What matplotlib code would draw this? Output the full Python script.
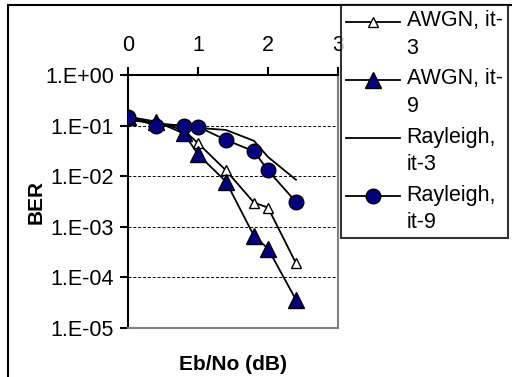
import numpy as np
import matplotlib
matplotlib.use("Agg")
import matplotlib.pyplot as plt
from matplotlib.ticker import FixedLocator, FuncFormatter, NullLocator
from matplotlib.lines import Line2D

plt.rcParams['font.family'] = ['Liberation Sans', 'DejaVu Sans']

# data
ebno = [0, 0.4, 0.8, 1.0, 1.4, 1.8, 2.0, 2.4]
awgn_it3 = [0.13, 0.12, 0.08, 0.045, 0.013, 0.003, 0.0024, 0.00019]
awgn_it9 = [0.15, 0.12, 0.07, 0.027, 0.0078, 0.00066, 0.00037, 0.000036]
rayl_it3 = [0.13, 0.11, 0.10, 0.09, 0.082, 0.05, 0.024, 0.0085]
rayl_it9 = [0.15, 0.10, 0.10, 0.095, 0.052, 0.031, 0.013, 0.0031]
labels = ["AWGN, it-\n3", "AWGN, it-\n9", "Rayleigh,\nit-3", "Rayleigh,\nit-9"]
xticks = [0, 1, 2, 3]
yticks = [1, 1e-1, 1e-2, 1e-3, 1e-4, 1e-5]

fig = plt.figure(figsize=(5.12, 3.77), dpi=100)
ax = fig.add_axes([128/512, 1-328/377, 210/512, 253/377])

navy = '#000080'
ax.plot(ebno, awgn_it3, '-^', color='black', lw=1.3, ms=7,
        mfc='white', mec='black', mew=1.0, label=labels[0], zorder=3)
ax.plot(ebno, awgn_it9, '-^', color='black', lw=1.3, ms=11,
        mfc=navy, mec='black', mew=1.0, label=labels[1], zorder=3)
ax.plot(ebno, rayl_it3, '-', color='black', lw=1.3, label=labels[2], zorder=3)
ax.plot(ebno, rayl_it9, '-o', color='black', lw=1.3, ms=10.5,
        mfc=navy, mec='black', mew=1.0, label=labels[3], zorder=3)

ax.set_yscale('log')
ax.set_xlim(0, 3)
ax.set_ylim(1e-5, 1)
ax.xaxis.tick_top()
ax.xaxis.set_major_locator(FixedLocator(xticks))
ax.xaxis.set_major_formatter(FuncFormatter(lambda v, p: f"{int(v)}"))
ax.yaxis.set_major_locator(FixedLocator(yticks))
ax.yaxis.set_minor_locator(NullLocator())
ax.yaxis.set_major_formatter(
    FuncFormatter(lambda v, p: f"1.E{int(round(np.log10(v))):+03d}"))
ax.tick_params(axis='both', direction='out', length=6, width=1.5,
               labelsize=15.5, colors='black', pad=4)
ax.tick_params(axis='x', pad=8)

# dashed gridlines at the inner decades
for yv in yticks[1:-1]:
    ax.axhline(yv, color='black', lw=0.7, ls=(0, (3, 2)), zorder=1)

for side in ['top', 'left']:
    ax.spines[side].set_color('black')
    ax.spines[side].set_linewidth(1.5)
for side in ['bottom', 'right']:
    ax.spines[side].set_color('#808080')
    ax.spines[side].set_linewidth(1.5)

ax.set_ylabel("BER", fontsize=15, fontweight='bold')
ax.yaxis.set_label_coords((46-128)/210, 0.5)
ax.set_xlabel("Eb/No (dB)", fontsize=15, fontweight='bold')
ax.xaxis.set_label_position('bottom')
ax.xaxis.set_label_coords((233-128)/210, -(355-328)/253)

# outer chart border
fig.add_artist(Line2D([8/512, 8/512], [-0.1, 1-5/377], transform=fig.transFigure,
                      color='black', lw=1.5))
fig.add_artist(Line2D([8/512, 1.1], [1-5/377, 1-5/377], transform=fig.transFigure,
                      color='black', lw=1.5))

leg = fig.legend(loc='upper left', bbox_to_anchor=(341/512, 1-5/377),
                 fontsize=15.5, frameon=True, fancybox=False, handlelength=2.5,
                 handletextpad=0.3, borderpad=0.25, labelspacing=0.45,
                 borderaxespad=0)
for t in leg.get_texts():
    t.set_linespacing(1.4)
# put each legend symbol level with the first text line, like Excel does
for h in leg.legend_handles:
    h.set_ydata(np.asarray(h.get_ydata()) + 9.5)
leg.get_frame().set_edgecolor('black')
leg.get_frame().set_linewidth(1.5)
leg.set_zorder(10)

fig.savefig("out.png", dpi=100)
